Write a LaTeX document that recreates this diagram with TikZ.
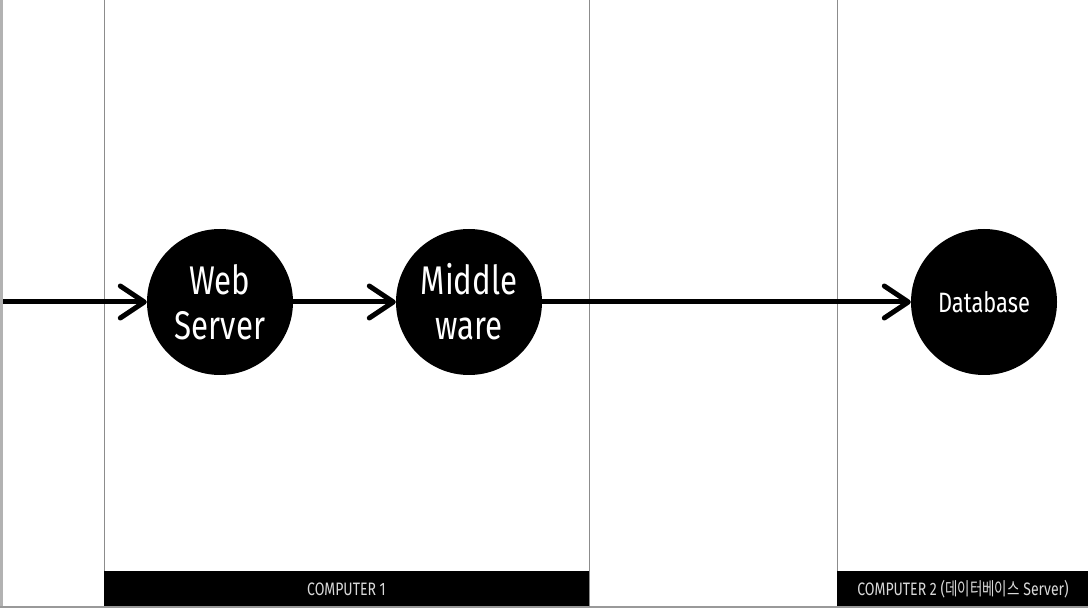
\documentclass[tikz,border=0pt]{standalone}
\usepackage{fontspec}
\setmainfont{Fira Sans}[FakeStretch=0.78]
\newfontfamily\kor{Noto Sans CJK KR}[FakeStretch=0.75]
\usetikzlibrary{arrows.meta}
\begin{document}
\begin{tikzpicture}[x=1pt, y=-1pt,
    every node/.style={font=\normalfont},
    proc/.style={circle, fill=black, minimum size=146pt, inner sep=0pt,
        text=white, align=center, font=\fontsize{40}{45}\selectfont},
    flow/.style={line width=5pt, -{Straight Barb[length=24pt, width=32pt, round]}},
    tierline/.style={draw=black!45, line width=1pt},
    tierbar/.style={fill=black},
    tiertext/.style={text=black!15, font=\fontsize{18}{20}\selectfont}]
    \useasboundingbox (0,0) rectangle (1088,609);
    \fill[white] (0,0) rectangle (1088,609);

    % frame edges
    \draw[black!30, line width=3pt] (1.5,0) -- (1.5,607);
    \draw[black!40, line width=1.5pt] (0,607) -- (1088,607);

    % tiers
    \draw[tierline] (104,0) -- (104,571);
    \draw[tierline] (589,0) -- (589,607);
    \draw[tierline] (837,0) -- (837,571);
    \fill[tierbar] (104,571) rectangle (589,606);
    \fill[tierbar] (837,571) rectangle (1088,606);
    \node[tiertext] (pc1) at (346.5,589) {COMPUTER 1};
    \node[tiertext] (pc2) at (963,589) {COMPUTER 2 ({\kor 데이터베이스} Server)};

    % nodes
    \coordinate (in) at (3,302);
    \node[proc] (web) at (220,302) {Web\\Server};
    \node[proc] (mid) at (469,302) {Middle\\ware};
    \node[proc, font=\fontsize{28}{32}\selectfont] (db) at (984,302) {Database};

    % arrows
    \draw[flow] (in) -- (web);
    \draw[flow] (web) -- (mid);
    \draw[flow] (mid) -- (db);
\end{tikzpicture}
\end{document}
